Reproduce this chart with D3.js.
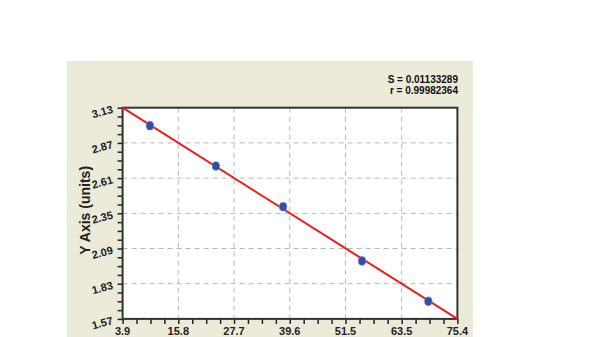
<!DOCTYPE html>
<html>
<head>
<meta charset="utf-8">
<script src="https://cdn.jsdelivr.net/npm/d3@7"></script>
<style>
  body { margin: 0; background: #fff; }
  svg { display: block; font-family: "Liberation Sans", Arial, sans-serif; }
</style>
</head>
<body>
<div id="chart"></div>
<script>
// dati
const xValues = [9.74, 23.82, 38.18, 55.03, 69.19];
const yValues = [2.997, 2.699, 2.399, 1.998, 1.700];
// retta di regressione (estremi)
const fitX = [3.9, 75.4];
const fitY = [3.13, 1.57];
// etichette degli assi
const xTicks = [3.9, 15.8, 27.7, 39.6, 51.5, 63.5, 75.4];
const yTicks = [3.13, 2.87, 2.61, 2.35, 2.09, 1.83, 1.57];
const statLines = ["S = 0.01133289", "r = 0.99982364"];
const yTitle = "Y Axis (units)";

const width = 600;
const height = 337;
const plot = { left: 122.6, right: 457.4, top: 107.7, bottom: 318.9 };

const svg = d3.select("#chart").append("svg")
  .attr("width", width).attr("height", height);

// pannello beige
svg.append("rect")
  .attr("x", 67).attr("y", 61)
  .attr("width", 406).attr("height", height - 61)
  .attr("fill", "#ecead9");

const x = d3.scaleLinear().domain([3.9, 75.4]).range([plot.left, plot.right]);
const y = d3.scaleLinear().domain([1.57, 3.13]).range([plot.bottom, plot.top]);

// area del grafico
svg.append("rect")
  .attr("x", plot.left).attr("y", plot.top)
  .attr("width", plot.right - plot.left).attr("height", plot.bottom - plot.top)
  .attr("fill", "#fff");

// griglia tratteggiata
const grid = svg.append("g")
  .attr("stroke", "#b8b8b8").attr("stroke-width", 1).attr("stroke-dasharray", "5,4");
grid.selectAll("line.gx")
  .data(xTicks.slice(1, -1))
  .join("line")
  .attr("class", "gx")
  .attr("x1", d => x(d)).attr("x2", d => x(d))
  .attr("y1", plot.top).attr("y2", plot.bottom);
grid.selectAll("line.gy")
  .data(yTicks.slice(1, -1))
  .join("line")
  .attr("class", "gy")
  .attr("y1", d => y(d)).attr("y2", d => y(d))
  .attr("x1", plot.left).attr("x2", plot.right);

// tacche minori (4 suddivisioni)
function subTicks(ticks) {
  const out = [];
  for (let i = 0; i < ticks.length - 1; i++) {
    const a = ticks[i], b = ticks[i + 1];
    for (let k = 0; k < 4; k++) out.push(a + (b - a) * k / 4);
  }
  out.push(ticks[ticks.length - 1]);
  return out;
}

// asse X
const xAxis = svg.append("g")
  .attr("transform", `translate(0,${plot.bottom})`)
  .call(d3.axisBottom(x).tickValues(subTicks(xTicks)).tickSize(5).tickFormat(""));
xAxis.select(".domain").remove();
xAxis.selectAll(".tick line").attr("stroke", "#222").attr("stroke-width", 1.5);

svg.append("g").selectAll("text")
  .data(xTicks)
  .join("text")
  .attr("x", d => x(d))
  .attr("y", plot.bottom + 16)
  .attr("text-anchor", "middle")
  .attr("font-size", 11)
  .attr("font-weight", "bold")
  .attr("fill", "#222")
  .text(d => d.toFixed(1));

// asse Y
const yAxis = svg.append("g")
  .attr("transform", `translate(${plot.left},0)`)
  .call(d3.axisLeft(y).tickValues(subTicks(yTicks.slice().reverse())).tickSize(5).tickFormat(""));
yAxis.select(".domain").remove();
yAxis.selectAll(".tick line").attr("stroke", "#222").attr("stroke-width", 1.5);

svg.append("g").selectAll("text")
  .data(yTicks)
  .join("text")
  .attr("transform", d => `translate(${plot.left - 9},${y(d) + 5}) rotate(-15)`)
  .attr("text-anchor", "end")
  .attr("font-size", 11)
  .attr("font-weight", "bold")
  .attr("fill", "#222")
  .text(d => d.toFixed(2));

// titolo asse Y
svg.append("text")
  .attr("transform", `translate(90,${(plot.top + plot.bottom) / 2 - 3}) rotate(-90)`)
  .attr("text-anchor", "middle")
  .attr("font-size", 14)
  .attr("font-weight", "bold")
  .attr("fill", "#222")
  .text(yTitle);

// cornice
svg.append("rect")
  .attr("x", plot.left).attr("y", plot.top)
  .attr("width", plot.right - plot.left).attr("height", plot.bottom - plot.top)
  .attr("fill", "none")
  .attr("stroke", "#333").attr("stroke-width", 2);

// retta
const line = d3.line().x(d => x(d[0])).y(d => y(d[1]));
svg.append("path")
  .datum(d3.zip(fitX, fitY))
  .attr("d", line)
  .attr("fill", "none")
  .attr("stroke", "#ee1c1c")
  .attr("stroke-width", 2);

// punti
svg.append("g").selectAll("ellipse")
  .data(d3.zip(xValues, yValues))
  .join("ellipse")
  .attr("cx", d => x(d[0]))
  .attr("cy", d => y(d[1]))
  .attr("rx", 3.8)
  .attr("ry", 4.4)
  .attr("fill", "#2f4fa6")
  .attr("stroke", "#7f95cf")
  .attr("stroke-width", 0.6);

// statistiche
svg.append("g").selectAll("text")
  .data(statLines)
  .join("text")
  .attr("x", 458)
  .attr("y", (d, i) => 83 + i * 11)
  .attr("text-anchor", "end")
  .attr("font-size", 10)
  .attr("font-weight", "bold")
  .attr("fill", "#111")
  .text(d => d);
</script>
</body>
</html>
